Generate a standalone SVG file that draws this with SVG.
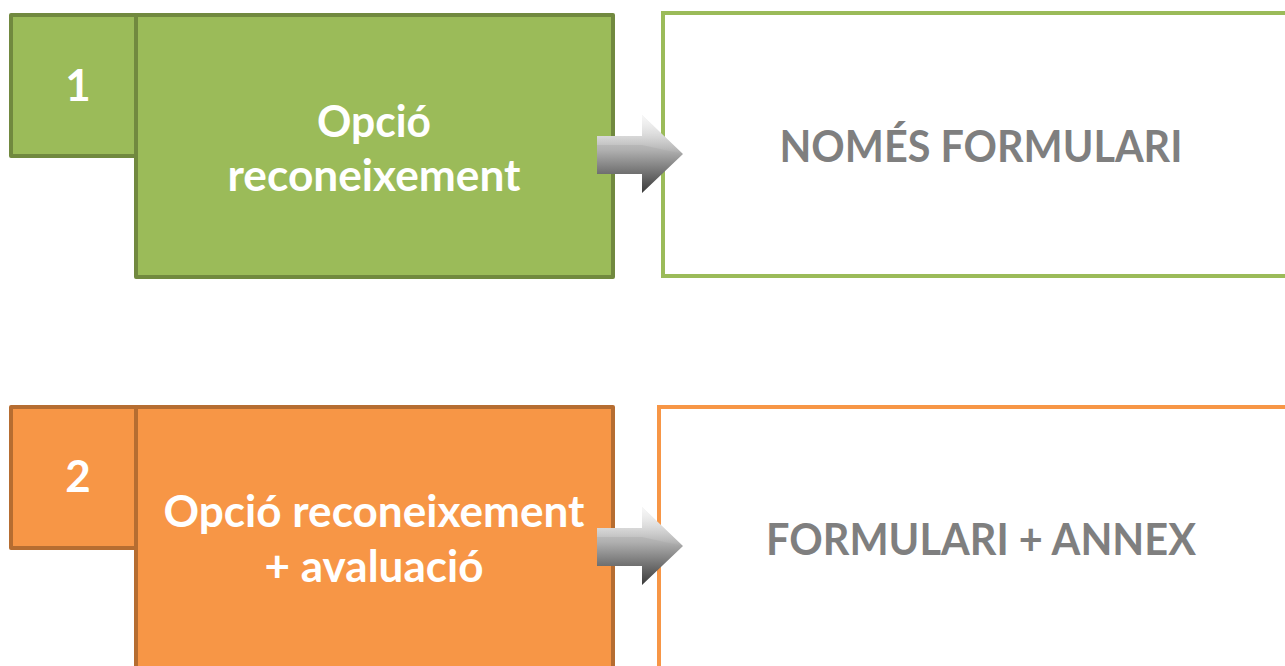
<svg xmlns="http://www.w3.org/2000/svg" width="1285" height="666" viewBox="0 0 1285 666">
<style>
.gfill{fill:#9bbb59;stroke:#71893f;stroke-width:4;stroke-linejoin:round}
.ofill{fill:#f79646;stroke:#b66d31;stroke-width:4;stroke-linejoin:round}
.gout{fill:#ffffff;stroke:#9bbb59;stroke-width:4}
.oout{fill:#ffffff;stroke:#f79646;stroke-width:4}
.t{font-family:Lato,"Open Sans","Liberation Sans",sans-serif;font-weight:bold;font-size:44px;text-anchor:middle}
.w{fill:#ffffff}
.g{fill:#7f7f7f}
</style>
<defs>
<linearGradient id="ag" x1="0" y1="0" x2="0" y2="1">
<stop offset="0" stop-color="#e6e6e6"/>
<stop offset="0.45" stop-color="#b0b0b0"/>
<stop offset="1" stop-color="#3a3a3a"/>
</linearGradient>
<linearGradient id="hl" x1="0" y1="0" x2="0" y2="1">
<stop offset="0" stop-color="#ffffff" stop-opacity="0.7"/>
<stop offset="1" stop-color="#ffffff" stop-opacity="0"/>
</linearGradient>
<g id="arrow">
<path d="M0,21 L45,21 L45,0 L86,39 L45,78 L45,59 L0,59 Z" fill="url(#ag)"/>
<path d="M0,21 L45,21 L45,0 L86,39 L45,30 L0,30 Z" fill="url(#hl)"/>
</g>
</defs>
<g id="node-opt1">
<rect class="gfill" x="11" y="15" width="125" height="141"/>
<rect class="gfill" x="136" y="15" width="477" height="262"/>
<text class="t w" x="78" y="101">1</text>
<text class="t w" x="374" y="137" textLength="114" lengthAdjust="spacingAndGlyphs">Opció</text>
<text class="t w" x="374" y="191" textLength="293" lengthAdjust="spacingAndGlyphs">reconeixement</text>
</g>
<g id="node-res1">
<rect class="gout" x="663" y="13" width="640" height="263"/>
<text class="t g" x="981" y="162" textLength="403" lengthAdjust="spacingAndGlyphs">NOMÉS FORMULARI</text>
</g>
<g id="node-opt2">
<rect class="ofill" x="11" y="407" width="125" height="141"/>
<rect class="ofill" x="136" y="407" width="477" height="280"/>
<text class="t w" x="78" y="492">2</text>
<text class="t w" x="374" y="527" textLength="421" lengthAdjust="spacingAndGlyphs">Opció reconeixement</text>
<text class="t w" x="374" y="582" textLength="219" lengthAdjust="spacingAndGlyphs">+ avaluació</text>
</g>
<g id="node-res2">
<rect class="oout" x="659" y="407" width="640" height="280"/>
<text class="t g" x="981" y="555" textLength="430" lengthAdjust="spacingAndGlyphs">FORMULARI + ANNEX</text>
</g>
<g id="connectors">
<use href="#arrow" x="597" y="115"/>
<use href="#arrow" x="597" y="507"/>
</g>
</svg>
